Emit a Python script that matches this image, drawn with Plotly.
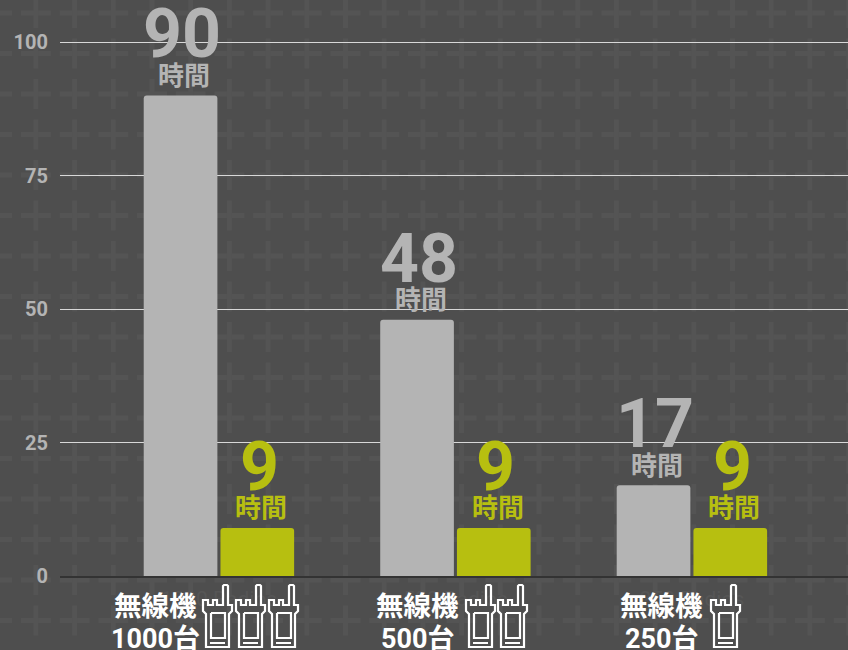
import plotly.graph_objects as go

categories = ["1000 Radios", "500 Radios", "250 Radios"]
before_hours = [90, 48, 17]
after_hours = [9, 9, 9]
label_counts = ["1000台", "500台", "250台"]
label_prefix = "無線機"
hour_unit = "時間"
y_ticks = [0, 25, 50, 75, 100]
y_tick_text = ["<b>0</b>", "<b>25</b>", "<b>50</b>", "<b>75</b>", "<b>100</b>"]
icon_starts = [[201, 234, 267], [464, 496], [709]]

W, H = 848, 650
L, B = 60, 576
GRAY, OLIVE = "#b4b4b4", "#b7bf10"
BG = "#4e4e4e"
CJK = "Noto Sans CJK JP"
px = lambda x: (x - L) / (W - L)
py = lambda y: (B - y) / B

fig = go.Figure()
fig.add_bar(x=categories, y=before_hours, marker_color=GRAY, marker_line_width=0)
fig.add_bar(x=categories, y=after_hours, marker_color=OLIVE, marker_line_width=0)

ann = []
SLOT = 0.1625
for i in range(3):
    for vals, col, off in ((before_hours, GRAY, -SLOT), (after_hours, OLIVE, SLOT)):
        ann.append(dict(x=i + off, y=vals[i], xref="x", yref="y", text=f"<b>{vals[i]}</b>", showarrow=False,
                        xanchor="center", yanchor="middle", xshift=2, yshift=61,
                        font=dict(family="Roboto", size=68, color=col)))
        ann.append(dict(x=i + off, y=vals[i], xref="x", yref="y", text=f"<b>{hour_unit}</b>", showarrow=False,
                        xanchor="center", yanchor="middle", xshift=4, yshift=22,
                        font=dict(family=CJK, size=26, color=col)))

label_x = [155, 417, 661]
for i, lx in enumerate(label_x):
    ann.append(dict(x=px(lx), y=py(604), xref="paper", yref="paper", text=f"<b>{label_prefix}</b>", showarrow=False,
                    xanchor="center", yanchor="middle", font=dict(family=CJK, size=27.5, color="white")))
    ann.append(dict(x=px(lx), y=py(639), xref="paper", yref="paper", text=f"<b>{label_counts[i]}</b>", showarrow=False,
                    xanchor="center", yanchor="middle", font=dict(family=f"Roboto, {CJK}", size=27, color="white")))

shapes = []
# background plus pattern
for c in range(0, 23):
    for r in range(0, 17):
        cx, cy = 35.9 + c * 38.7 - 38.7, 13 + r * 40.5 - 40.5
        shapes.append(dict(type="rect", xref="paper", yref="paper", layer="below", line_width=0, fillcolor="#545454",
                           x0=px(cx - 15), x1=px(cx + 15), y0=py(cy + 2.5), y1=py(cy - 2.5)))
        shapes.append(dict(type="rect", xref="paper", yref="paper", layer="below", line_width=0, fillcolor="#545454",
                           x0=px(cx - 2.5), x1=px(cx + 2.5), y0=py(cy + 15), y1=py(cy - 15)))


def icon_path(x0):
    pts_outer = [(2, 30), (2, 20), (7, 20), (7, 25), (12, 25), (12, 20), (16, 20), (16, 25), (22, 25), (22, 6),
                 (23, 5), (26, 5), (27, 6), (27, 25), (31, 25), (31, 31), (28, 34), (28, 67), (5, 67), (5, 34), (2, 31),
                 (2, 30)]
    screen = [(10, 33), (24, 33), (24, 58), (10, 58), (10, 33)]
    bar = [(9, 63), (24, 63)]
    out = ""
    for pts in (pts_outer, screen, bar):
        out += "M " + " L ".join(f"{px(x0 + a)} {py(580 + b)}" for a, b in pts) + " "
    return out


for group in icon_starts:
    for x0 in group:
        shapes.append(dict(type="path", xref="paper", yref="paper", path=icon_path(x0),
                           line=dict(color="white", width=2.2), layer="above"))

fig.update_layout(
    width=W, height=H, autosize=False, margin=dict(l=L, r=0, t=0, b=H - B),
    paper_bgcolor=BG, plot_bgcolor="rgba(0,0,0,0)", showlegend=False,
    barmode="group", bargap=0.351, bargroupgap=0.04, barcornerradius=3,
    annotations=ann, shapes=shapes,
    xaxis=dict(type="category", range=[-0.672, 2.66], showgrid=False, ticks="", showline=True, linecolor="#333333",
               linewidth=2, ticklabelstandoff=3, tickfont=dict(family="Roboto", size=21, color="#565656"),
               automargin=False),
    yaxis=dict(range=[0, 107.87], tickvals=y_ticks, ticktext=y_tick_text, gridcolor="#d8d8d8", gridwidth=1,
               zeroline=False, showline=False, ticks="", ticklabelstandoff=11,
               tickfont=dict(family="Roboto", size=20, color="#b4b4b4"), automargin=False),
    font=dict(family="Roboto"),
)
fig.write_html("out.html", config=dict(displayModeBar=False),
               post_script="document.body.style.margin='0';document.body.style.overflow='hidden';")
